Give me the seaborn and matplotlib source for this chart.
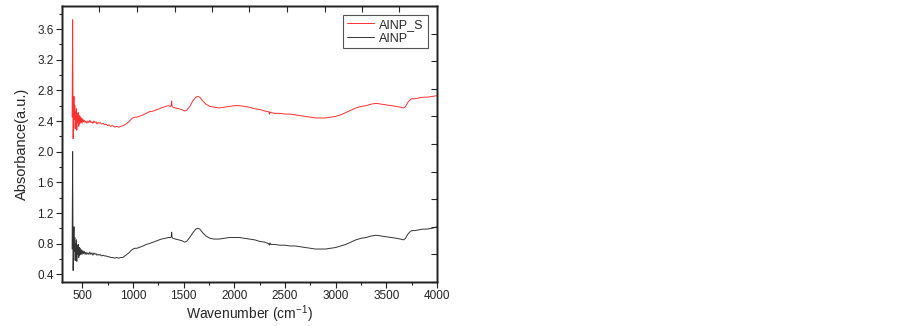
import numpy as np
import pandas as pd
import matplotlib
matplotlib.use("Agg")
import matplotlib.pyplot as plt
from matplotlib.ticker import MultipleLocator
import seaborn as sns

wavenumber = [400, 405, 410, 414, 418, 422, 426, 430, 434, 438, 442, 446, 450, 455, 460, 465, 470, 475, 480, 486,
              492, 498, 505, 512, 520, 528, 536, 545, 555, 565, 575, 585, 595, 605, 615, 625, 635, 645, 655, 665,
              675, 690, 705, 720, 735, 750, 765, 780, 800, 820, 840, 860, 880, 900, 920, 940, 960, 980, 1000, 1020,
              1040, 1060, 1080, 1100, 1130, 1160, 1200, 1240, 1280, 1320, 1350, 1370, 1378, 1382, 1386, 1395, 1420,
              1450, 1480, 1510, 1530, 1560, 1590, 1620, 1640, 1660, 1690, 1720, 1760, 1800, 1850, 1900, 1950, 2000,
              2050, 2100, 2150, 2200, 2250, 2300, 2340, 2346, 2352, 2360, 2400, 2450, 2500, 2550, 2600, 2650, 2700,
              2750, 2800, 2850, 2900, 2950, 3000, 3050, 3100, 3150, 3200, 3250, 3300, 3350, 3400, 3450, 3500, 3550,
              3600, 3640, 3670, 3690, 3710, 3730, 3750, 3780, 3820, 3860, 3900, 3950, 4000]

ainp_s = [2.45, 3.72, 2.17, 2.55, 2.72, 2.42, 2.60, 2.30, 2.52, 2.45, 2.56, 2.28, 2.50, 2.38, 2.51, 2.33, 2.47, 2.36,
          2.46, 2.38, 2.44, 2.37, 2.43, 2.39, 2.41, 2.38, 2.40, 2.37, 2.40, 2.38, 2.41, 2.38, 2.39, 2.37, 2.40, 2.38,
          2.39, 2.36, 2.38, 2.37, 2.38, 2.36, 2.37, 2.35, 2.36, 2.34, 2.35, 2.33, 2.34, 2.32, 2.33, 2.32, 2.33, 2.34,
          2.35, 2.37, 2.39, 2.42, 2.44, 2.45, 2.45, 2.46, 2.47, 2.48, 2.50, 2.52, 2.53, 2.55, 2.57, 2.59, 2.60, 2.59,
          2.60, 2.66, 2.59, 2.58, 2.57, 2.56, 2.55, 2.53, 2.54, 2.59, 2.66, 2.71, 2.72, 2.71, 2.66, 2.62, 2.59, 2.58,
          2.57, 2.58, 2.59, 2.60, 2.60, 2.59, 2.58, 2.56, 2.55, 2.53, 2.52, 2.49, 2.52, 2.51, 2.50, 2.50, 2.49, 2.49,
          2.48, 2.47, 2.46, 2.45, 2.44, 2.44, 2.44, 2.45, 2.46, 2.48, 2.51, 2.54, 2.57, 2.59, 2.60, 2.62, 2.63, 2.62,
          2.61, 2.60, 2.59, 2.58, 2.57, 2.59, 2.64, 2.67, 2.69, 2.69, 2.70, 2.71, 2.71, 2.72, 2.73]

ainp = [0.73, 2.00, 0.45, 0.83, 1.02, 0.70, 0.88, 0.58, 0.80, 0.73, 0.85, 0.57, 0.78, 0.66, 0.79, 0.62, 0.75, 0.65,
        0.74, 0.66, 0.72, 0.66, 0.71, 0.67, 0.70, 0.66, 0.69, 0.66, 0.68, 0.66, 0.69, 0.66, 0.68, 0.65, 0.68, 0.66,
        0.67, 0.65, 0.66, 0.65, 0.66, 0.64, 0.65, 0.64, 0.64, 0.63, 0.63, 0.62, 0.62, 0.61, 0.62, 0.61, 0.62, 0.62,
        0.64, 0.66, 0.68, 0.71, 0.73, 0.74, 0.74, 0.75, 0.76, 0.77, 0.79, 0.80, 0.82, 0.84, 0.86, 0.87, 0.88, 0.88,
        0.89, 0.95, 0.88, 0.87, 0.86, 0.85, 0.84, 0.82, 0.83, 0.88, 0.94, 0.99, 1.00, 0.99, 0.94, 0.90, 0.87, 0.86,
        0.86, 0.87, 0.88, 0.88, 0.88, 0.87, 0.86, 0.85, 0.83, 0.82, 0.80, 0.78, 0.81, 0.79, 0.79, 0.78, 0.78, 0.77,
        0.77, 0.76, 0.75, 0.74, 0.73, 0.73, 0.73, 0.74, 0.75, 0.77, 0.79, 0.82, 0.85, 0.87, 0.88, 0.90, 0.91, 0.90,
        0.89, 0.88, 0.87, 0.86, 0.85, 0.87, 0.92, 0.95, 0.97, 0.97, 0.98, 0.99, 0.99, 1.00, 1.02]

series_names = ["AINP_S", "AINP"]
series_colors = ["#ff3030", "#333333"]

sns.set_style("white")
plt.rcParams["font.family"] = ["Liberation Sans", "DejaVu Sans"]
plt.rcParams["mathtext.default"] = "regular"

df = pd.concat([
    pd.DataFrame({"Wavenumber": wavenumber, "Absorbance": ainp_s, "Sample": series_names[0]}),
    pd.DataFrame({"Wavenumber": wavenumber, "Absorbance": ainp, "Sample": series_names[1]}),
], ignore_index=True)

fig = plt.figure(figsize=(9.03, 3.26), dpi=100)
ax = fig.add_axes([62 / 903, 1 - 282 / 326, 375 / 903, 276 / 326])

sns.lineplot(data=df, x="Wavenumber", y="Absorbance", hue="Sample", hue_order=series_names,
             palette=dict(zip(series_names, series_colors)), estimator=None, sort=False,
             linewidth=0.7, ax=ax)

ax.set_xlim(300, 4000)
ax.set_ylim(0.3, 3.9)
ax.xaxis.set_major_locator(MultipleLocator(500))
ax.xaxis.set_minor_locator(MultipleLocator(250))
ax.yaxis.set_major_locator(MultipleLocator(0.4))
ax.yaxis.set_minor_locator(MultipleLocator(0.2))
ax.set_xticks(np.arange(500, 4001, 500))
ax.set_yticks(np.arange(0.4, 3.61, 0.4))
ax.set_yticklabels([f"{v:.1f}" for v in np.arange(0.4, 3.61, 0.4)])
ax.tick_params(which="both", direction="out", width=0.8, colors="#222222", labelsize=8.5,
               bottom=True, left=True, top=False, right=False)
ax.tick_params(which="major", length=4, pad=2)
ax.tick_params(which="minor", length=2)
ax.set_xlabel("Wavenumber (cm$^{-1}$)", fontsize=10, labelpad=1)
ax.set_ylabel("Absorbance(a.u.)", fontsize=10.5, labelpad=6)
for s in ax.spines.values():
    s.set_color("#222222")
    s.set_linewidth(1.0)

ax_top = ax.twiny()
ax_top.set_xlim(0, 1)
ax_top.set_xticks(np.linspace(0, 1, 11))
ax_top.tick_params(axis="x", direction="in", length=4, width=0.8, labeltop=False, top=True, bottom=False)
ax_right = ax.twinx()
ax_right.set_ylim(0, 1)
ax_right.set_yticks(np.linspace(0, 1, 11))
ax_right.tick_params(axis="y", direction="in", length=4, width=0.8, labelright=False, right=True, left=False)
for a in (ax_top, ax_right):
    for s in a.spines.values():
        s.set_color("#222222")
        s.set_linewidth(1.0)

handles, labels = ax.get_legend_handles_labels()
if ax.legend_:
    ax.legend_.remove()
leg = ax_right.legend(handles, labels, loc="upper right", bbox_to_anchor=(0.975, 0.967),
                      fontsize=9, frameon=True, fancybox=False, edgecolor="#555555", framealpha=1,
                      handlelength=2.2, borderpad=0.3, labelspacing=0.15, handletextpad=0.4,
                      borderaxespad=0)
leg.get_frame().set_linewidth(0.8)

fig.savefig("out.png", dpi=100, facecolor="white")
